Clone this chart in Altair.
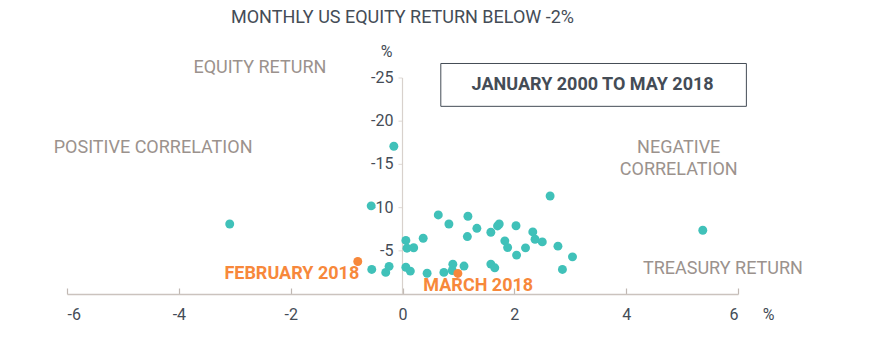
import altair as alt
import pandas as pd

# ---- data ----
treasury_x = [-0.56, -0.55, -0.30, -0.24, 0.06, 0.08, 0.20, 0.37, 0.06, 0.14,
              0.44, 0.64, 0.83, 1.17, 1.16, 1.33, 0.74, 0.90, 0.89, 1.10,
              2.64, 1.58, 1.70, 1.73, 2.03, 1.83, 1.88, 2.04, 2.20, 2.33,
              2.37, 2.50, 2.78, 3.04, 2.86, 1.58, 1.65, -0.155, -3.09, 5.37]
equity_y = [-10.2, -2.84, -2.5, -3.2, -6.2, -5.3, -5.35, -6.45, -3.1, -2.65,
            -2.4, -9.15, -8.1, -9.0, -6.65, -7.6, -2.5, -3.45, -2.72, -3.23,
            -11.34, -7.15, -7.88, -8.1, -7.9, -6.15, -5.38, -4.5, -5.34, -7.19,
            -6.34, -6.03, -5.54, -4.3, -2.84, -3.46, -3.03, -17.1, -8.1, -7.38]
highlight_names = ["FEBRUARY 2018", "MARCH 2018"]
highlight_x = [-0.80, 0.99]
highlight_y = [-3.76, -2.38]

x_ticks = [-6, -4, -2, 0, 2, 4, 6]
y_ticks = [-25, -20, -15, -10, -5]
y_tick_labels = ["-25", "-20", "-15", "-10", "-5"]
y_range = [-25, 0]

TEAL = "#40c1b9"
ORANGE = "#f7883b"
DARK = "#444c56"
GREY = "#9b928d"
AXIS = "#cbc3be"
YAXIS = "#d8d1cc"
FONT = "Roboto"

W, H = 671, 216

df = pd.DataFrame({
    "x": treasury_x + highlight_x,
    "y": equity_y + highlight_y,
    "kind": ["normal"] * len(treasury_x) + ["highlight"] * len(highlight_x),
})
yticks_df = pd.DataFrame({"y": y_ticks, "label": y_tick_labels})
yaxis_df = pd.DataFrame({"x": [0], "y": [y_range[0]], "y2": [y_range[1]], "t": ["%"]})

xscale = alt.Scale(domain=[-6, 6], nice=False, zero=False)
yscale = alt.Scale(domain=y_range, nice=False, zero=False, reverse=True)

xa = lambda f: alt.X(f, type="quantitative", scale=xscale, axis=None)
ya = lambda f: alt.Y(f, type="quantitative", scale=yscale, axis=None)

x_bottom = alt.X("x:Q", scale=xscale, axis=alt.Axis(
    values=x_ticks, orient="bottom", grid=False, ticks=False,
    domainColor=AXIS, domainWidth=1.5, labelColor=DARK, labelFontSize=16,
    labelFont=FONT, labelPadding=12, labelExpr="'' + datum.value",
    labelBaseline="top",
    title="%", titleAngle=0, titleAlign="center", titleBaseline="alphabetic",
    titleX=W + 30, titleY=25, titleColor=DARK, titleFontSize=16,
    titleFont=FONT, titleFontWeight="normal"))

x_top_ticks = alt.X("x:Q", scale=xscale, axis=alt.Axis(
    values=x_ticks, orient="top", offset=-H, grid=False, domain=False,
    labels=False, ticks=True, tickSize=6, tickColor="#c0b8b3", tickWidth=1.2,
    title=None))

# ---- vertical axis drawn at x = 0 (through the scales) ----
y_domain = alt.Chart(yaxis_df).mark_rule(color=YAXIS, strokeWidth=1.2).encode(
    x=xa("x"), y=ya("y"), y2="y2")
y_tickmarks = alt.Chart(yticks_df).mark_tick(
    orient="horizontal", size=4, thickness=1.2, color=YAXIS, xOffset=-2).encode(
    x=alt.X(datum=0, type="quantitative", scale=xscale, axis=None), y=ya("y"))
y_labels = alt.Chart(yticks_df).mark_text(
    font=FONT, fontSize=16, color=DARK, align="right", baseline="middle", dx=-9).encode(
    x=alt.X(datum=0, type="quantitative", scale=xscale, axis=None), y=ya("y"), text="label:N")
y_title = alt.Chart(yaxis_df).mark_text(
    font=FONT, fontSize=16, color=DARK, align="center", baseline="alphabetic",
    dx=-16, dy=-21).encode(x=xa("x"), y=ya("y"), text="t:N")

points = alt.Chart(df).mark_circle(size=80, opacity=1).encode(
    x=x_bottom, y=ya("y"),
    color=alt.Color("kind:N", scale=alt.Scale(domain=["normal", "highlight"],
                                               range=[TEAL, ORANGE]), legend=None),
    order=alt.Order("kind:N", sort="descending"),
)

tick_layer = alt.Chart(df).mark_circle(opacity=0).encode(x=x_top_ticks, y=ya("y"))

# ---- annotations ----
ann_grey = pd.DataFrame({
    "t": ["EQUITY RETURN", "POSITIVE CORRELATION", "NEGATIVE\nCORRELATION", "TREASURY RETURN"],
    "x": [-2.55, -4.46, 4.94, 5.73],
    "y": [-26.1, -16.87, -16.95, -2.92],
})
ann_orange = pd.DataFrame({
    "t": highlight_names,
    "x": [-1.98, 1.355],
    "y": [-2.34, -0.96],
})
box = pd.DataFrame({"x": [0.685], "x2": [6.15], "y": [-26.68], "y2": [-21.72],
                    "t": ["JANUARY 2000 TO MAY 2018"], "xc": [3.40], "yc": [-24.14]})
title_df = pd.DataFrame({"t": ["MONTHLY US EQUITY RETURN BELOW -2%"], "x": [0.0], "y": [-31.98]})

grey_txt = alt.Chart(ann_grey).mark_text(
    font=FONT, fontSize=18, color=GREY, align="center", baseline="middle",
    lineBreak="\n", lineHeight=22).encode(x=xa("x"), y=ya("y"), text="t:N")

orange_txt = alt.Chart(ann_orange).mark_text(
    font=FONT, fontSize=18, fontWeight="bold", color=ORANGE, align="center",
    baseline="middle").encode(x=xa("x"), y=ya("y"), text="t:N")

box_rect = alt.Chart(box).mark_rect(fill="white", stroke=DARK, strokeWidth=1).encode(
    x=xa("x"), x2="x2", y=ya("y"), y2="y2")
box_txt = alt.Chart(box).mark_text(
    font=FONT, fontSize=18, fontWeight="bold", color=DARK, align="center",
    baseline="middle").encode(x=xa("xc"), y=ya("yc"), text="t:N")

title_txt = alt.Chart(title_df).mark_text(
    font=FONT, fontSize=18, color=DARK, align="center", baseline="middle").encode(
    x=xa("x"), y=ya("y"), text="t:N")

chart = alt.layer(
    tick_layer, y_domain, y_tickmarks, y_labels, y_title, points,
    grey_txt, orange_txt, box_rect, box_txt, title_txt
).resolve_axis(
    x="independent"
).properties(
    width=W, height=H, background="white",
    autosize=alt.AutoSizeParams(type="none"),
    padding={"left": 67, "top": 78, "right": 133, "bottom": 58},
).configure_view(strokeWidth=0)

chart.save("out.html", embed_options={"renderer": "svg", "actions": False})
